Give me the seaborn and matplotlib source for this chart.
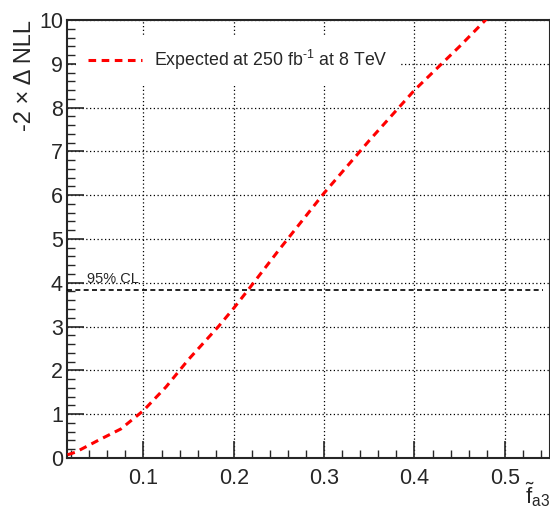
import matplotlib
matplotlib.use("Agg")
import matplotlib.pyplot as plt
import seaborn as sns
import pandas as pd
from matplotlib.ticker import MultipleLocator

# expected scan
fa3 = [0.016, 0.025, 0.05, 0.075, 0.1, 0.125, 0.15, 0.183, 0.2, 0.216, 0.25, 0.3, 0.35, 0.4, 0.45, 0.5]
nll = [0.07, 0.13, 0.40, 0.66, 1.08, 1.62, 2.25, 3.00, 3.42, 3.84, 4.75, 6.05, 7.25, 8.40, 9.40, 10.45]
cl95 = 3.84
legend_label = "Expected at 250 fb$^{\\text{-1}}$ at 8 TeV"

df = pd.DataFrame({"fa3": fa3, "nll": nll})

sns.set_style("ticks")
plt.rcParams["font.family"] = ["Liberation Sans", "DejaVu Sans"]
plt.rcParams["mathtext.fontset"] = "custom"
plt.rcParams["mathtext.rm"] = "Liberation Sans"
plt.rcParams["mathtext.it"] = "Liberation Sans"
plt.rcParams["axes.unicode_minus"] = False

fig = plt.figure(figsize=(5.5, 5.15), dpi=100)
ax = fig.add_axes([0.122, 0.111, 0.878, 0.850])

sns.lineplot(data=df, x="fa3", y="nll", ax=ax, color="red", linewidth=2.2,
             linestyle=(0, (2.5, 1.8)), label=legend_label, zorder=5)

ax.axhline(cl95, xmin=0, xmax=0.985, color="black", linewidth=1.2,
           linestyle=(0, (3, 2)), zorder=4)
ax.text(0.038, 4.0, "95% CL", fontsize=10.5, va="baseline")

ax.set_xlim(0.0155, 0.55)
ax.set_ylim(0, 10)
ax.xaxis.set_major_locator(MultipleLocator(0.1))
ax.xaxis.set_minor_locator(MultipleLocator(0.02))
ax.yaxis.set_major_locator(MultipleLocator(1))
ax.yaxis.set_minor_locator(MultipleLocator(0.2))
ax.set_xticks([0.1, 0.2, 0.3, 0.4, 0.5])
ax.set_xticklabels(["0.1", "0.2", "0.3", "0.4", "0.5"])

ax.tick_params(which="both", direction="in", top=False, right=False, labelsize=15.5)
ax.tick_params(which="major", length=12, width=1.2)
ax.tick_params(which="minor", length=6, width=1.0)
ax.tick_params(axis="x", pad=7)
ax.tick_params(axis="y", pad=3)

ax.grid(True, which="major", color="black", linestyle=(0, (1, 2)), linewidth=0.9)
for s in ax.spines.values():
    s.set_linewidth(1.5)
    s.set_visible(True)

ax.set_xlabel(r"$\mathrm{\tilde{f}_{a3}}$", fontsize=16, ha="right", va="top")
ax.xaxis.set_label_coords(1.0, -0.052)
ax.set_ylabel("-2 × Δ NLL", fontsize=17, ha="right", va="center")
ax.yaxis.set_label_coords(-0.087, 1.0)

leg = ax.legend(loc="upper left", bbox_to_anchor=(0.0, 0.985), fontsize=12.8,
                frameon=True, fancybox=False, edgecolor="none", facecolor="white",
                framealpha=1, handlelength=3.0, handletextpad=0.7, borderpad=0.7)

fig.savefig("out.png", dpi=100)
